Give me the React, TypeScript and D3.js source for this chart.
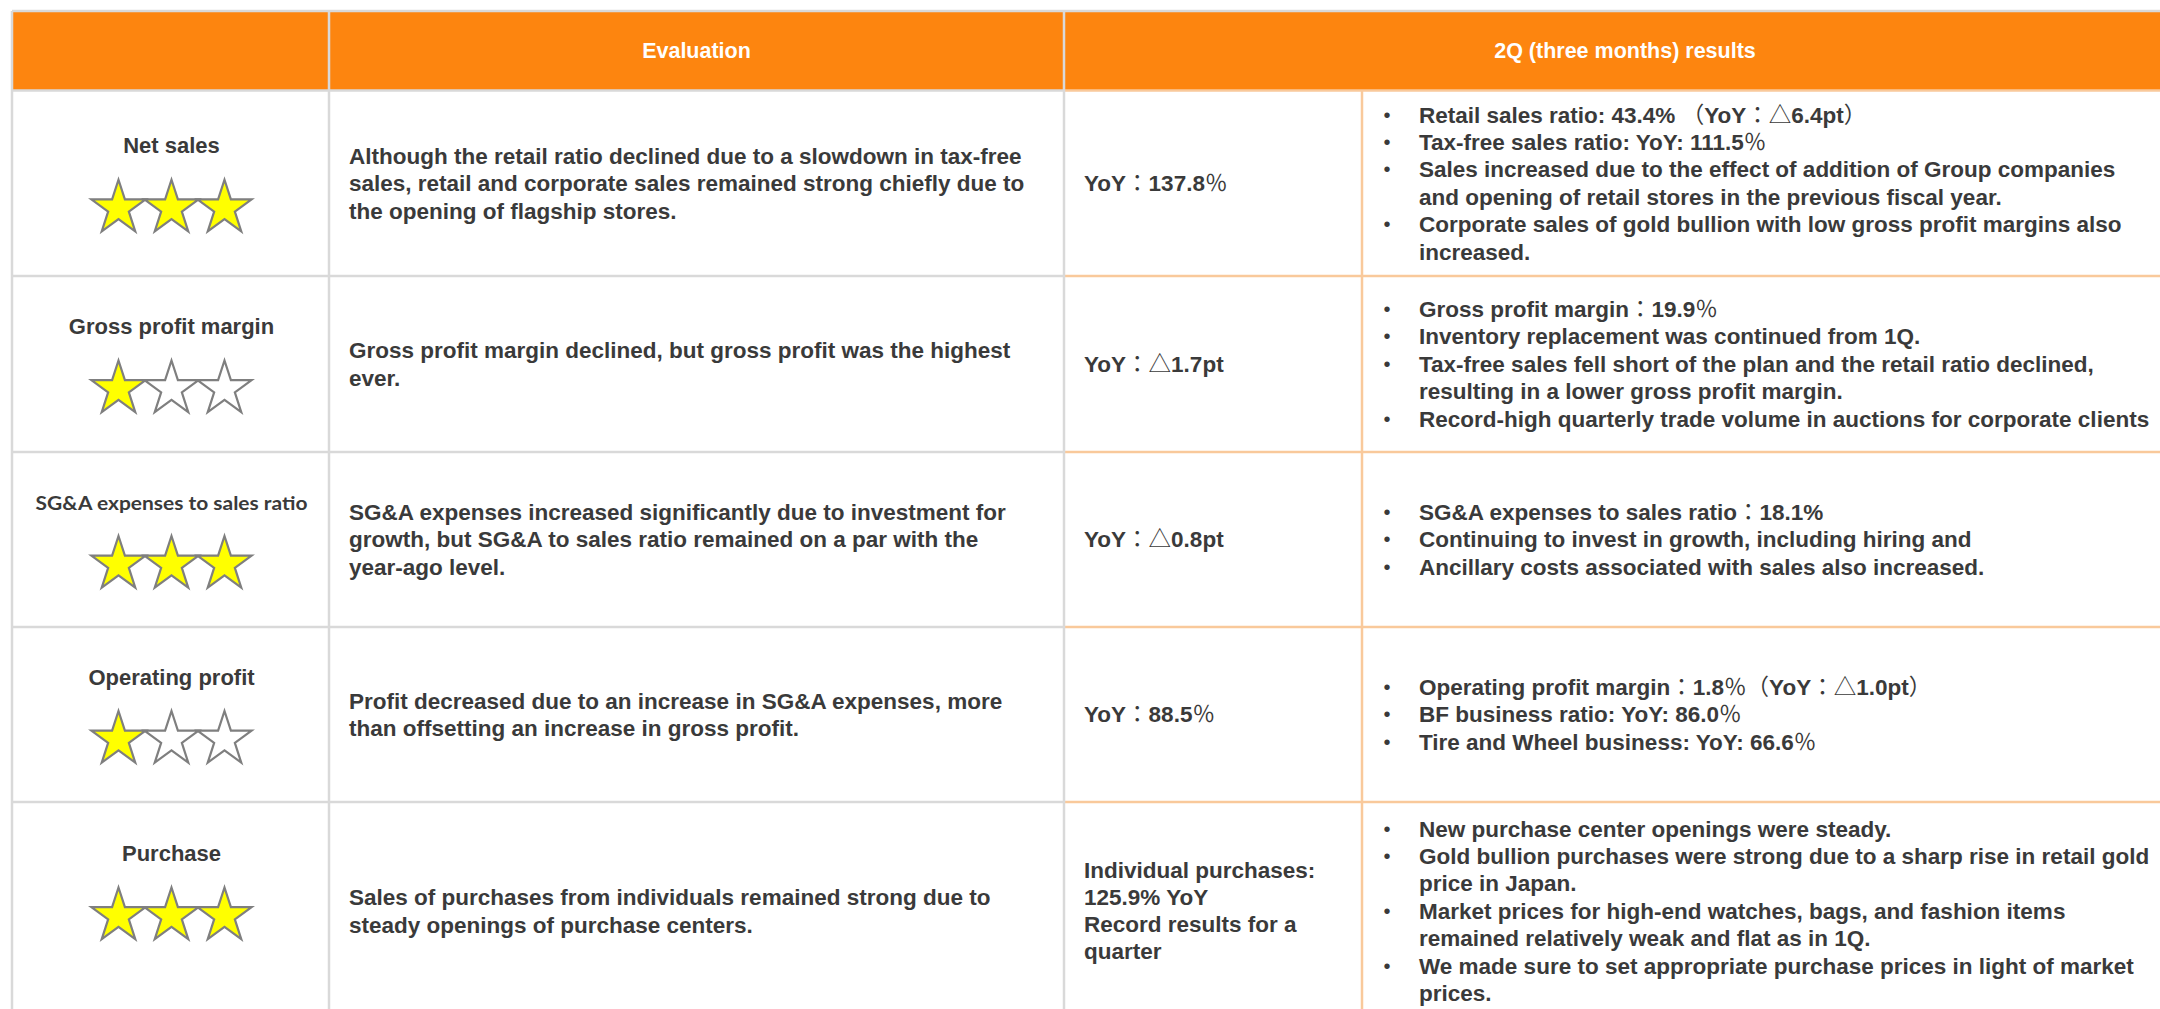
import React from 'react';
import * as d3 from 'd3';

// ---------------- data ----------------
const headers = ['', 'Evaluation', '2Q (three months) results'];
const metrics = ['Net sales', 'Gross profit margin', 'SG&A expenses to sales ratio', 'Operating profit', 'Purchase'];
const ratings = [3, 1, 3, 1, 3];
const maxRating = 3;

const evaluations: string[][] = [
  ['Although the retail ratio declined due to a slowdown in tax-free', 'sales, retail and corporate sales remained strong chiefly due to', 'the opening of flagship stores.'],
  ['Gross profit margin declined, but gross profit was the highest', 'ever.'],
  ['SG&A expenses increased significantly due to investment for', 'growth, but SG&A to sales ratio remained on a par with the', 'year-ago level.'],
  ['Profit decreased due to an increase in SG&A expenses, more', 'than offsetting an increase in gross profit.'],
  ['Sales of purchases from individuals remained strong due to', 'steady openings of purchase centers.'],
];

const yoyResults: string[][] = [
  ['YoY：137.8％'],
  ['YoY：△1.7pt'],
  ['YoY：△0.8pt'],
  ['YoY：88.5％'],
  ['Individual purchases:', '125.9% YoY', 'Record results for a', 'quarter'],
];

const bulletNotes: string[][][] = [
  [
    ['Retail sales ratio: 43.4% （YoY：△6.4pt）'],
    ['Tax-free sales ratio: YoY: 111.5％'],
    ['Sales increased due to the effect of addition of Group companies', 'and opening of retail stores in the previous fiscal year.'],
    ['Corporate sales of gold bullion with low gross profit margins also', 'increased.'],
  ],
  [
    ['Gross profit margin：19.9％'],
    ['Inventory replacement was continued from 1Q.'],
    ['Tax-free sales fell short of the plan and the retail ratio declined,', 'resulting in a lower gross profit margin.'],
    ['Record-high quarterly trade volume in auctions for corporate clients'],
  ],
  [
    ['SG&A expenses to sales ratio：18.1%'],
    ['Continuing to invest in growth, including hiring and'],
    ['Ancillary costs associated with sales also increased.'],
  ],
  [
    ['Operating profit margin：1.8％（YoY：△1.0pt）'],
    ['BF business ratio: YoY: 86.0％'],
    ['Tire and Wheel business: YoY: 66.6％'],
  ],
  [
    ['New purchase center openings were steady.'],
    ['Gold bullion purchases were strong due to a sharp rise in retail gold', 'price in Japan.'],
    ['Market prices for high-end watches, bags, and fashion items', 'remained relatively weak and flat as in 1Q.'],
    ['We made sure to set appropriate purchase prices in light of market', 'prices.'],
  ],
];

// ---------------- layout ----------------
const W = 2160;
const H = 1009;
const tableTop = 11;
const headerBottom = 90.5;
const rowHeights = [185.5, 176, 175, 175, 218];
const colEdges = [12, 329, 1064, 1362, 2186];
const labelGroupShift = [0, 0, 0, 0, -20];
const FONT = "'Liberation Sans', Arial, Helvetica, sans-serif";
const CJK = "'Noto Sans CJK JP', 'Noto Sans', sans-serif";
const TEXT = '#3a3a3a';
const ORANGE = '#FD850F';
const GRAY_LINE = '#D9D9D9';
const PEACH_LINE = '#F9C99B';
const FS = 22.5;
const LH = 27.4;

const rowEdges = [headerBottom, ...Array.from(d3.cumsum(rowHeights), (v) => headerBottom + v)];
const rowCenter = (i: number) => (rowEdges[i] + rowEdges[i + 1]) / 2;

const wideChars = /[％：△（）]/;
function runs(s: string) {
  const out: { t: string; wide: boolean }[] = [];
  for (const ch of s) {
    const wide = wideChars.test(ch);
    const last = out[out.length - 1];
    if (last && last.wide === wide) last.t += ch;
    else out.push({ t: ch, wide });
  }
  return out;
}

function RichText({ x, y, s, anchor = 'start' }: { x: number; y: number; s: string; anchor?: string }) {
  return (
    <text x={x} y={y} fontFamily={FONT} fontWeight={700} fontSize={FS} fill={TEXT} textAnchor={anchor}>
      {runs(s).map((r, k) =>
        r.wide ? (
          <tspan key={k} fontFamily={CJK} fontWeight={400}>{r.t}</tspan>
        ) : (
          <tspan key={k}>{r.t}</tspan>
        )
      )}
    </text>
  );
}

function firstBaseline(cy: number, n: number, lh: number) {
  return cy - ((n - 1) * lh) / 2 + FS * 0.35;
}

const R = 28.5;
const starPath = d3.symbol().type(d3.symbolStar).size((R * R) / 0.8908130915292852)() as string;

export default function App() {
  const labelCx = (colEdges[0] + colEdges[1]) / 2 + 1;
  const starX = d3.scalePoint<number>().domain(d3.range(maxRating)).range([labelCx - 53, labelCx + 53]);

  return (
    <svg width={W} height={H} style={{ position: 'absolute', left: 0, top: 0, background: '#fff' }}>
      <rect x={0} y={0} width={W} height={H} fill="#fff" />
      {/* header */}
      <rect x={colEdges[0]} y={tableTop} width={W} height={headerBottom - tableTop} fill={ORANGE} />
      <line x1={colEdges[0]} x2={W} y1={tableTop} y2={tableTop} stroke={GRAY_LINE} strokeWidth={2.5} />
      {headers.map((h, i) => {
        const x0 = i === 0 ? colEdges[0] : i === 1 ? colEdges[1] : colEdges[2];
        const x1 = i === 0 ? colEdges[1] : i === 1 ? colEdges[2] : colEdges[4];
        return (
          <text key={i} x={(x0 + x1) / 2} y={(tableTop + headerBottom) / 2 + 7.5} textAnchor="middle"
            fontFamily={FONT} fontWeight={700} fontSize={21.5} fill="#fff">{h}</text>
        );
      })}

      {/* horizontal grid lines */}
      {rowEdges.slice(0, -1).map((y, i) => (
        <g key={'h' + i}>
          <line x1={colEdges[0]} x2={colEdges[2]} y1={y} y2={y} stroke={GRAY_LINE} strokeWidth={2.5} />
          <line x1={colEdges[2]} x2={W} y1={y} y2={y} stroke={PEACH_LINE} strokeWidth={2.5} />
        </g>
      ))}
      {/* vertical lines */}
      <line x1={colEdges[0]} x2={colEdges[0]} y1={tableTop} y2={H} stroke={GRAY_LINE} strokeWidth={2.5} />
      <line x1={colEdges[1]} x2={colEdges[1]} y1={tableTop} y2={H} stroke={GRAY_LINE} strokeWidth={2.5} />
      <line x1={colEdges[2]} x2={colEdges[2]} y1={tableTop} y2={H} stroke={GRAY_LINE} strokeWidth={2.5} />
      <line x1={colEdges[3]} x2={colEdges[3]} y1={headerBottom} y2={H} stroke={PEACH_LINE} strokeWidth={2.5} />

      {metrics.map((m, i) => {
        const c = rowCenter(i) + labelGroupShift[i];
        const cr = rowCenter(i);
        const evalLines = evaluations[i];
        const yoyLines = yoyResults[i];
        const items = bulletNotes[i];
        const nB = d3.sum(items, (it) => it.length);
        const b0 = firstBaseline(cr, nB, LH);
        let lineIdx = 0;
        return (
          <g key={'r' + i}>
            {i === 2 ? (
              <text x={labelCx} y={c - 30} textAnchor="middle" fontFamily="Lato, 'Open Sans', sans-serif"
                fontWeight={700} fontSize={18} fill={TEXT} textLength={272} lengthAdjust="spacingAndGlyphs">{m}</text>
            ) : (
              <text x={labelCx} y={c - 30} textAnchor="middle" fontFamily={FONT} fontWeight={700}
                fontSize={22} fill={TEXT}>{m}</text>
            )}
            {d3.range(maxRating).map((k) => (
              <path key={k} d={starPath} transform={`translate(${starX(k)},${c + 25})`}
                fill={k < ratings[i] ? '#FFFF00' : '#FFFFFF'} stroke="#7F7F7F" strokeWidth={2.2}
                strokeLinejoin="miter" />
            ))}
            {evalLines.map((l, k) => (
              <RichText key={'e' + k} x={colEdges[1] + 20} y={firstBaseline(cr, evalLines.length, 27.5) + k * 27.5} s={l} />
            ))}
            {yoyLines.map((l, k) => (
              <RichText key={'y' + k} x={colEdges[2] + 20} y={firstBaseline(cr, yoyLines.length, 27) + k * 27} s={l} />
            ))}
            {items.map((it, j) => {
              const start = lineIdx;
              lineIdx += it.length;
              return (
                <g key={'b' + j}>
                  <text x={colEdges[3] + 25} y={b0 + start * LH - 1} textAnchor="middle" fontFamily={FONT}
                    fontSize={20} fill={TEXT}>•</text>
                  {it.map((l, k) => (
                    <RichText key={k} x={colEdges[3] + 57} y={b0 + (start + k) * LH} s={l} />
                  ))}
                </g>
              );
            })}
          </g>
        );
      })}
    </svg>
  );
}
